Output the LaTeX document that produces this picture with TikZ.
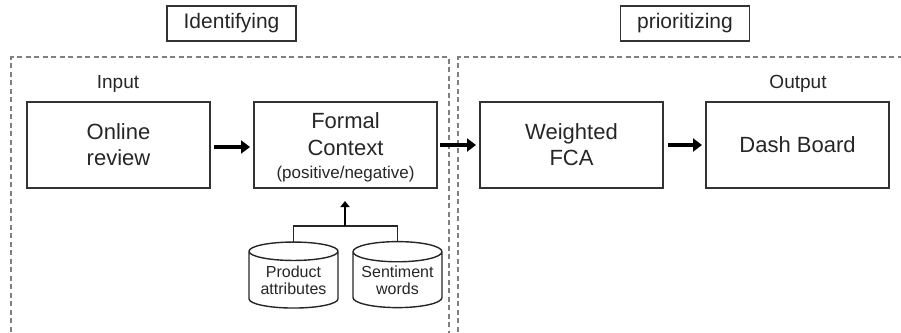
\documentclass[tikz,border=0pt]{standalone}
\usepackage{fontspec}
\setmainfont{Liberation Sans}
\usetikzlibrary{shapes.geometric,arrows.meta}
\begin{document}
\begin{tikzpicture}[x=1pt,y=-1pt,
  every node/.style={inner sep=0pt, outer sep=0pt, text=black!85},
  stage/.style={draw=black!80, line width=1.4pt, minimum width=129pt, minimum height=35pt, font=\fontsize{21}{22}\selectfont},
  procbox/.style={draw=black!80, line width=1.4pt, minimum width=183pt, minimum height=86pt, align=center, font=\fontsize{22}{26}\selectfont},
  boxtext/.style={align=center, font=\fontsize{22}{27}\selectfont},
  tag/.style={font=\fontsize{19}{20}\selectfont},
  region/.style={draw=black!50, line width=1.6pt, dash pattern=on 5pt off 3.5pt},
  flow/.style={line width=3.5pt, black, -{Triangle[length=9pt,width=13pt]}},
  feed/.style={line width=1.4pt, black!85},
  store/.style={cylinder, shape border rotate=90, draw=black!85, line width=1.4pt, minimum width=89pt, minimum height=66pt, aspect=0.28, align=center, font=\fontsize{16}{17}\selectfont}
]
\useasboundingbox (0,0) rectangle (901,332);

% stage headings
\node[stage] (ident) at (231.5,23.5) {Identifying};
\node[stage] (prior) at (685,23.5) {prioritizing};

% dashed regions
\draw[region] (11,340) -- (11,57) -- (449,57) -- (449,340);
\draw[region] (458,340) -- (458,57) -- (905,57);

% process boxes
\node[procbox] (review) at (118.5,145) {Online\\review};
\node[procbox] (context) at (345.5,145) {};
\node[boxtext] (contextlabel) at (345.5,147.5) {Formal\\Context\\[-4pt]{\fontsize{17}{19}\selectfont(positive/negative)}};
\node[procbox] (wfca) at (571.5,145) {Weighted\\FCA};
\node[procbox] (dash) at (797.5,145) {Dash Board};

\node[tag] at (118,84) {Input};
\node[tag] at (798,84) {Output};

% main flow
\draw[flow] ([xshift=4pt,yshift=-2pt]review.east) -- ([xshift=-4pt,yshift=-2pt]context.west);
\draw[flow] ([xshift=3pt]context.east) -- ([xshift=-4pt]wfca.west);
\draw[flow] ([xshift=5pt]wfca.east) -- ([xshift=-4pt]dash.west);

% data stores
\node[store] (prod) at (293.5,280) {Product\\attributes};
\node[store] (sent) at (397.5,280) {Sentiment\\words};

\coordinate (join) at (345,226);
\draw[feed] (prod.top) |- (join) -| (sent.top);
\draw[line width=2.5pt, black, -{Triangle[length=6pt,width=9pt]}] (join) -- (345,201);
\end{tikzpicture}
\end{document}
